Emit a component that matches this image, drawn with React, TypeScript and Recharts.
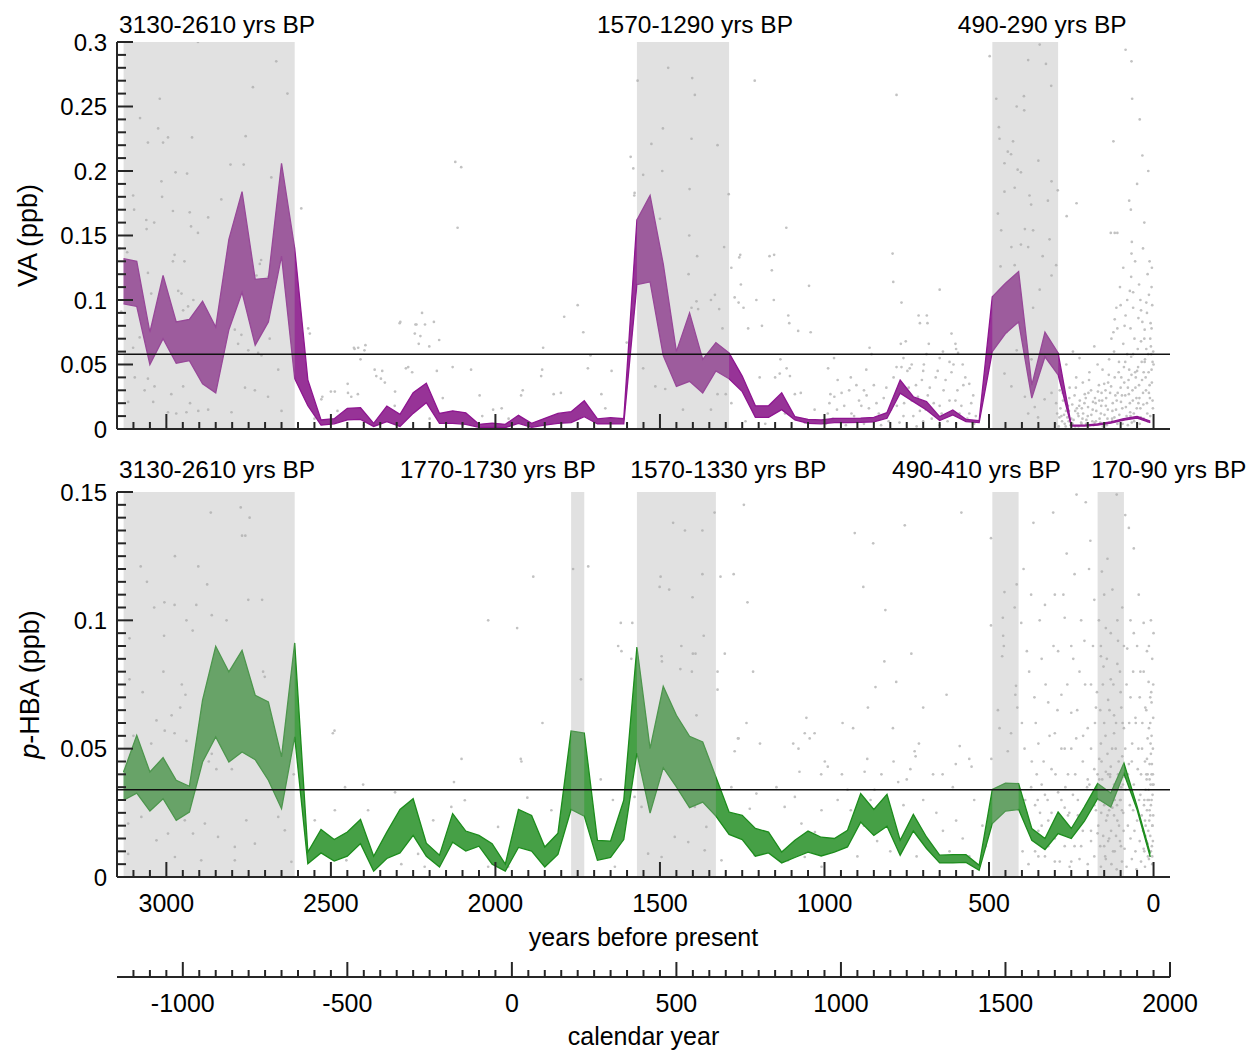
import React from 'react';
import {
  ComposedChart,
  Area,
  Scatter,
  XAxis,
  YAxis,
  ReferenceArea,
  ReferenceLine,
} from 'recharts';

// ---- sample ages (years before present) of the reconstructed bands ----
const YEARS_BP = [
  3130, 3090, 3050, 3010, 2970, 2930, 2890, 2850, 2810, 2770, 2730, 2690, 2650, 2610,
  2570, 2530, 2490, 2450, 2410, 2370, 2330, 2290, 2250, 2210, 2170, 2130, 2090, 2050,
  2010, 1970, 1930, 1890, 1850, 1810, 1770, 1730, 1690, 1650, 1610, 1570, 1530, 1490,
  1450, 1410, 1370, 1330, 1290, 1250, 1210, 1170, 1130, 1090, 1050, 1010, 970, 930,
  890, 850, 810, 770, 730, 690, 650, 610, 570, 530, 490, 450, 410, 370, 330, 290,
  250, 210, 170, 130, 90, 50, 10,
];

// calendar year of the "present" used by the BP scale
const PRESENT_YEAR = 1950;

// ---- vanillic acid (ppb): upper / lower band ----
const VA_HIGH = [
  0.132, 0.13, 0.075, 0.119, 0.083, 0.085, 0.099, 0.079, 0.147, 0.184, 0.116, 0.117, 0.206, 0.14,
  0.038, 0.007, 0.008, 0.016, 0.0165, 0.0044, 0.0178, 0.0114, 0.0282, 0.0354, 0.0121, 0.0141, 0.0126, 0.0036,
  0.0046, 0.0036, 0.0106, 0.0044, 0.0083, 0.0121, 0.0134, 0.0219, 0.0078, 0.0088, 0.008, 0.162, 0.181, 0.128,
  0.06, 0.09, 0.054, 0.067, 0.059, 0.041, 0.018, 0.018, 0.028, 0.0096, 0.0075, 0.007, 0.0083, 0.0083,
  0.0085, 0.009, 0.0127, 0.038, 0.025, 0.0212, 0.0096, 0.0147, 0.0075, 0.0065, 0.1025, 0.113, 0.122, 0.034, 0.075, 0.059,
  0.003, 0.003, 0.004, 0.0055, 0.008, 0.0098, 0.0062,
];
const VA_LOW = [
  0.097, 0.095, 0.05, 0.07, 0.051, 0.053, 0.035, 0.028, 0.077, 0.106, 0.065, 0.083, 0.134, 0.039,
  0.018, 0.003, 0.004, 0.007, 0.0075, 0.002, 0.0057, 0.002, 0.0121, 0.0204, 0.0044, 0.0044, 0.0036, 0.0013,
  0.0013, 0.001, 0.0044, 0.0013, 0.003, 0.0044, 0.0049, 0.0096, 0.0039, 0.0039, 0.004, 0.112, 0.114, 0.057,
  0.033, 0.037, 0.028, 0.045, 0.039, 0.029, 0.009, 0.009, 0.015, 0.007, 0.0044, 0.004, 0.005, 0.005,
  0.0052, 0.0055, 0.0083, 0.0277, 0.0212, 0.0147, 0.0065, 0.0109, 0.0057, 0.005, 0.06, 0.074, 0.083, 0.024, 0.056, 0.042,
  0.0023, 0.0023, 0.003, 0.0045, 0.0068, 0.0085, 0.005,
];

// ---- p-hydroxybenzoic acid (ppb): upper / lower band ----
const HBA_HIGH = [
  0.0409, 0.0552, 0.0409, 0.0465, 0.0377, 0.0353, 0.0689, 0.0899, 0.0799, 0.0883, 0.0708, 0.0682, 0.0468, 0.0912,
  0.0097, 0.0185, 0.0146, 0.0175, 0.0224, 0.0081, 0.0175, 0.0263, 0.0305, 0.0132, 0.0085, 0.0247, 0.0179, 0.0162,
  0.013, 0.005, 0.0263, 0.024, 0.0117, 0.0171, 0.0569, 0.0561, 0.0143, 0.014, 0.0299, 0.0896, 0.05, 0.0743,
  0.063, 0.0548, 0.0526, 0.039, 0.0253, 0.024, 0.0189, 0.0175, 0.0097, 0.0143, 0.0179, 0.0155, 0.015, 0.0182,
  0.0325, 0.0263, 0.0322, 0.0143, 0.0244, 0.0156, 0.0085, 0.0087, 0.0087, 0.0046, 0.0341, 0.0366, 0.0364, 0.0189, 0.015, 0.0253,
  0.0189, 0.0273, 0.0364, 0.0327, 0.0444, 0.0275, 0.0091,
];
const HBA_LOW = [
  0.0299, 0.0327, 0.0257, 0.0305, 0.0221, 0.0253, 0.0448, 0.0546, 0.0448, 0.0487, 0.0457, 0.0377, 0.0266, 0.0546,
  0.0052, 0.0094, 0.0062, 0.0081, 0.013, 0.0023, 0.0072, 0.0094, 0.0162, 0.0081, 0.0039, 0.0136, 0.0101, 0.012,
  0.005, 0.0023, 0.0115, 0.0101, 0.0039, 0.0088, 0.0263, 0.0237, 0.0065, 0.0076, 0.0146, 0.0483, 0.0249, 0.0426,
  0.0351, 0.027, 0.0292, 0.0237, 0.0166, 0.0146, 0.0081, 0.0094, 0.0055, 0.0076, 0.0097, 0.0082, 0.0097, 0.0117,
  0.0214, 0.0162, 0.0198, 0.0085, 0.0179, 0.0111, 0.0055, 0.0055, 0.0057, 0.0026, 0.0208, 0.0257, 0.0263, 0.0143, 0.0107, 0.0169,
  0.015, 0.0218, 0.0305, 0.0273, 0.0403, 0.0262, 0.0078,
];

// ---- background level of each record ----
const VA_THRESHOLD = 0.058;
const HBA_THRESHOLD = 0.034;

// ---- highlighted periods (yrs BP) ----
const VA_PERIODS: [number, number][] = [[3130, 2610], [1570, 1290], [490, 290]];
const HBA_PERIODS: [number, number][] = [[3130, 2610], [1770, 1730], [1570, 1330], [490, 410], [170, 90]];

// ---- individual measurements [yrs BP, ppb] ----
const VA_SAMPLES: [number, number][] = [
  [2904, 0.3], [2666, 0.285], [2737, 0.265], [2632, 0.26], [3020, 0.256], [2759, 0.227], [2922, 0.226], [2995, 0.226],
  [3010, 0.222], [3056, 0.222], [3025, 0.233], [3080, 0.241], [2805, 0.205], [2765, 0.205], [2681, 0.195], [2972, 0.199],
  [2937, 0.198], [3015, 0.192], [3101, 0.181], [3013, 0.18], [2833, 0.178], [2980, 0.169], [2929, 0.168], [3098, 0.17],
  [3061, 0.162], [3037, 0.16], [3060, 0.155], [2975, 0.135], [2980, 0.13], [2945, 0.13], [2925, 0.157], [2904, 0.152],
  [2873, 0.164], [2716, 0.128], [2726, 0.119], [2691, 0.118], [2712, 0.131], [3119, 0.137], [3142, 0.14], [3046, 0.105],
  [2954, 0.105], [2964, 0.107], [2918, 0.1], [2934, 0.095], [2949, 0.092], [3137, 0.091], [2843, 0.081], [2792, 0.077],
  [2772, 0.073], [2731, 0.075], [2686, 0.07], [3056, 0.071], [3017, 0.079], [2883, 0.078], [3101, 0.063], [2782, 0.066],
  [2751, 0.061], [2721, 0.059], [2711, 0.057], [2660, 0.046], [2604, 0.051], [3056, 0.039], [3036, 0.033], [2985, 0.027],
  [2949, 0.033], [3066, 0.03], [3040, 0.021], [2928, 0.02], [2903, 0.014], [2873, 0.015], [2995, 0.013], [2970, 0.012],
  [2939, 0.013], [2802, 0.013], [2761, 0.032], [2731, 0.03], [2691, 0.025], [2650, 0.014], [3096, 0.04], [3116, 0.021],
  [3081, 0.071], [3056, 0.121], [2590, 0.171], [2569, 0.078], [2564, 0.074], [2488, 0.029], [2428, 0.062], [2417, 0.063],
  [2438, 0.025], [2367, 0.046], [2362, 0.041], [2291, 0.082], [2240, 0.081], [2265, 0.048], [2245, 0.074], [2529, 0.023],
  [2448, 0.028], [2306, 0.018], [2122, 0.207], [2104, 0.203], [2115, 0.156], [2289, 0.083], [2223, 0.09], [2243, 0.081],
  [2214, 0.081], [2187, 0.083], [2228, 0.072], [2233, 0.066], [2201, 0.064], [2171, 0.069], [2430, 0.063], [2395, 0.065],
  [2398, 0.061], [2410, 0.054], [2130, 0.048], [2074, 0.046], [2178, 0.045], [2253, 0.044], [2272, 0.047], [2344, 0.045],
  [2336, 0.036], [2348, 0.039], [2449, 0.035], [2500, 0.029], [2526, 0.025], [2305, 0.029], [2418, 0.027], [2048, 0.026],
  [2007, 0.015], [1981, 0.016], [1922, 0.026], [1917, 0.03], [1855, 0.063], [1858, 0.046], [1861, 0.041], [1801, 0.028],
  [1750, 0.096], [1791, 0.087], [1733, 0.075], [1719, 0.047], [1711, 0.057], [1647, 0.045], [1666, 0.016], [1601, 0.067],
  [1589, 0.211], [1581, 0.202], [1578, 0.181], [1823, 0.027], [1678, 0.027], [1568, 0.27], [1475, 0.28], [1402, 0.272],
  [1394, 0.259], [1212, 0.27], [1491, 0.233], [1404, 0.225], [1325, 0.22], [1526, 0.221], [1551, 0.197], [1493, 0.2],
  [1577, 0.183], [1291, 0.182], [1116, 0.156], [1500, 0.163], [1410, 0.186], [1411, 0.15], [1305, 0.141], [1256, 0.135],
  [1153, 0.135], [1167, 0.134], [1160, 0.123], [1283, 0.125], [1254, 0.112], [1047, 0.111], [1387, 0.134], [1413, 0.12],
  [1333, 0.104], [1273, 0.102], [1261, 0.098], [1389, 0.099], [1404, 0.094], [1384, 0.093], [1345, 0.1], [1107, 0.082],
  [1320, 0.093], [1080, 0.076], [1310, 0.078], [1232, 0.078], [1190, 0.08], [1429, 0.071], [1136, 0.043], [1105, 0.041],
  [1115, 0.047], [1197, 0.04], [1090, 0.027], [1072, 0.028], [989, 0.047], [982, 0.027], [1150, 0.04], [1514, 0.033],
  [1484, 0.031], [1551, 0.047], [1403, 0.043], [1367, 0.036], [1325, 0.027], [1300, 0.027], [1283, 0.02], [1345, 0.015],
  [1430, 0.015], [1259, 0.133], [1246, 0.094], [1207, 0.1], [1154, 0.1], [1110, 0.088], [1042, 0.075], [971, 0.055],
  [1134, 0.054], [863, 0.063], [781, 0.259], [793, 0.136], [791, 0.114], [766, 0.098], [710, 0.082], [687, 0.082],
  [753, 0.068], [683, 0.066], [650, 0.108], [781, 0.048], [766, 0.048], [741, 0.047], [714, 0.088], [689, 0.088],
  [614, 0.074], [602, 0.066], [594, 0.059], [857, 0.058], [873, 0.046], [768, 0.066],
  [990, 0.012], [970, 0.025], [955, 0.006], [940, 0.018], [925, 0.03], [910, 0.01], [895, 0.022], [880, 0.004],
  [865, 0.016], [850, 0.034], [835, 0.012], [820, 0.024], [805, 0.006], [790, 0.04], [780, 0.018], [770, 0.03],
  [760, 0.01], [748, 0.045], [735, 0.022], [722, 0.034], [710, 0.014], [698, 0.05], [686, 0.026], [674, 0.008],
  [662, 0.04], [650, 0.018], [638, 0.03], [626, 0.006], [614, 0.044], [602, 0.022], [590, 0.012], [578, 0.034],
  [566, 0.008], [554, 0.02], [545, 0.004], [700, 0.006], [720, 0.002], [650, 0.003], [600, 0.004], [760, 0.055],
  [640, 0.06], [690, 0.058], [1030, 0.015], [1060, 0.005], [1120, 0.012], [1180, 0.004], [1240, 0.006], [1700, 0.006],
  [1760, 0.012], [1880, 0.004], [1960, 0.008], [2040, 0.01], [2100, 0.003], [2160, 0.024], [2200, 0.008], [2350, 0.01],
  [2400, 0.003], [2480, 0.014], [2550, 0.008],
  [498, 0.289], [346, 0.298], [381, 0.286], [327, 0.283], [311, 0.266], [478, 0.256], [394, 0.258], [416, 0.25],
  [393, 0.247], [470, 0.234], [468, 0.225], [427, 0.223], [443, 0.215], [433, 0.213], [350, 0.208], [413, 0.201],
  [403, 0.199], [453, 0.206], [310, 0.192], [422, 0.187], [453, 0.184], [377, 0.181], [372, 0.174], [321, 0.177],
  [473, 0.167], [463, 0.154], [391, 0.155], [366, 0.154], [316, 0.147], [432, 0.141], [403, 0.143], [381, 0.141],
  [291, 0.185], [296, 0.127], [337, 0.134], [465, 0.126], [422, 0.127], [310, 0.119], [346, 0.108], [366, 0.094],
  [473, 0.084], [447, 0.075], [416, 0.061], [371, 0.054], [321, 0.059], [453, 0.043], [432, 0.033], [391, 0.025],
  [361, 0.017], [331, 0.023], [310, 0.028], [381, 0.012], [351, 0.009],
  [234, 0.175], [264, 0.165], [122, 0.223], [85, 0.294], [67, 0.285], [65, 0.256], [34, 0.212], [74, 0.177],
  [69, 0.17], [130, 0.152], [118, 0.152], [110, 0.152], [66, 0.145], [67, 0.136], [72, 0.107], [62, 0.106],
  [6, 0.11], [113, 0.094], [100, 0.096], [122, 0.075], [110, 0.078], [85, 0.088], [34, 0.083], [27, 0.077],
  [280, 0.01], [270, 0.004], [260, 0.018], [250, 0.008], [240, 0.026], [230, 0.012], [220, 0.005], [210, 0.02],
  [200, 0.01], [190, 0.03], [185, 0.015], [175, 0.006], [165, 0.022], [160, 0.012], [150, 0.035], [145, 0.018],
  [140, 0.008], [132, 0.028], [125, 0.014], [118, 0.04], [112, 0.022], [108, 0.006], [100, 0.032], [95, 0.016],
  [90, 0.048], [86, 0.026], [82, 0.01], [76, 0.038], [72, 0.02], [68, 0.056], [64, 0.03], [60, 0.012],
  [56, 0.044], [52, 0.024], [48, 0.062], [44, 0.034], [40, 0.016], [36, 0.052], [32, 0.028], [28, 0.07],
  [24, 0.04], [20, 0.02], [16, 0.058], [12, 0.034], [9, 0.082], [6, 0.046], [3, 0.022], [1, 0.06],
  [255, 0.032], [235, 0.04], [215, 0.036], [195, 0.044], [170, 0.05], [155, 0.046], [135, 0.054], [120, 0.06],
  [105, 0.052], [92, 0.066], [80, 0.058], [70, 0.078], [58, 0.07], [46, 0.086], [38, 0.092], [22, 0.098],
  [14, 0.104], [4, 0.096], [265, 0.05], [245, 0.06], [225, 0.055], [180, 0.064], [128, 0.07], [88, 0.08],
  [62, 0.094], [40, 0.1], [18, 0.12], [10, 0.07], [7, 0.058], [26, 0.054], [50, 0.045], [74, 0.046],
  [98, 0.04], [138, 0.036], [158, 0.028], [178, 0.024], [198, 0.028], [218, 0.016], [238, 0.014], [258, 0.006],
  [275, 0.022], [285, 0.03], [10, 0.01], [18, 0.006], [30, 0.008], [42, 0.004], [54, 0.009], [66, 0.005],
  [78, 0.003], [94, 0.007], [110, 0.004], [126, 0.006], [142, 0.003], [162, 0.005], [182, 0.003], [205, 0.004],
  [228, 0.002],
];

// densely sampled recent section and the 1000-540 BP interval
const VA_SAMPLES_DENSE: [number, number][] = [
  [298, 0.004], [293, 0.012], [288, 0.002], [283, 0.016], [278, 0.006], [272, 0.011], [267, 0.002], [262, 0.009],
  [257, 0.014], [252, 0.003], [247, 0.019], [243, 0.007], [238, 0.002], [233, 0.016], [228, 0.01], [224, 0.022],
  [219, 0.004], [214, 0.012], [209, 0.027], [204, 0.007], [199, 0.017], [194, 0.003], [189, 0.011], [184, 0.021],
  [179, 0.005], [174, 0.014], [169, 0.029], [164, 0.008], [159, 0.018], [154, 0.002], [149, 0.011], [144, 0.024],
  [139, 0.015], [134, 0.005], [129, 0.033], [124, 0.02], [119, 0.009], [114, 0.015], [109, 0.028], [104, 0.011],
  [99, 0.021], [94, 0.004], [89, 0.036], [84, 0.017], [79, 0.008], [75, 0.027], [71, 0.013], [67, 0.042],
  [63, 0.022], [59, 0.006], [55, 0.032], [51, 0.016], [47, 0.048], [43, 0.024], [39, 0.009], [35, 0.038],
  [31, 0.019], [27, 0.052], [23, 0.03], [19, 0.012], [15, 0.044], [11, 0.024], [8, 0.064], [5, 0.036],
  [2, 0.016], [0, 0.05], [296, 0.02], [286, 0.009], [276, 0.028], [266, 0.014], [256, 0.024], [246, 0.004],
  [236, 0.032], [226, 0.018], [216, 0.008], [206, 0.024], [196, 0.038], [186, 0.006], [176, 0.02], [166, 0.034],
  [156, 0.022], [146, 0.03], [136, 0.042], [126, 0.008], [116, 0.026], [106, 0.044], [96, 0.026], [86, 0.052],
  [78, 0.032], [70, 0.01], [62, 0.058], [54, 0.04], [46, 0.02], [38, 0.068], [30, 0.044], [22, 0.062],
  [14, 0.028], [6, 0.078], [3, 0.052], [118, 0.085], [102, 0.11], [92, 0.125], [80, 0.1], [68, 0.118],
  [56, 0.13], [44, 0.112], [32, 0.14], [20, 0.09], [12, 0.13], [5, 0.125], [28, 0.16], [50, 0.19],
  [16, 0.2], [42, 0.24],
  [995, 0.004], [985, 0.02], [975, 0.008], [962, 0.015], [948, 0.028], [935, 0.003], [918, 0.012], [903, 0.034],
  [888, 0.018], [872, 0.026], [858, 0.008], [842, 0.02], [828, 0.003], [812, 0.032], [798, 0.015], [785, 0.024],
  [772, 0.005], [758, 0.02], [744, 0.032], [730, 0.01], [716, 0.025], [704, 0.038], [692, 0.015], [680, 0.032],
  [668, 0.02], [656, 0.045], [644, 0.012], [632, 0.038], [620, 0.022], [608, 0.05], [596, 0.03], [584, 0.018],
  [572, 0.04], [560, 0.012], [548, 0.026], [540, 0.01], [620, 0.052], [650, 0.055], [700, 0.045], [735, 0.05],
  [600, 0.062], [580, 0.05], [560, 0.035], [880, 0.03], [920, 0.04], [960, 0.038],
];

const HBA_SAMPLES: [number, number][] = [
  [2865, 0.142], [2774, 0.144], [2747, 0.14], [2770, 0.133], [2760, 0.133], [2974, 0.125], [2903, 0.121], [3078, 0.121],
  [2876, 0.114], [2709, 0.108], [3059, 0.115], [3037, 0.105], [2975, 0.106], [3006, 0.107], [2909, 0.106], [2939, 0.1],
  [2920, 0.096], [3007, 0.094], [3112, 0.093], [2862, 0.102], [2817, 0.1], [2751, 0.108], [2706, 0.08], [2701, 0.078],
  [3112, 0.077], [3072, 0.072], [2953, 0.075], [2942, 0.071], [3009, 0.08], [2958, 0.066], [2984, 0.063], [3030, 0.061],
  [3046, 0.052], [3100, 0.055], [3005, 0.057], [2975, 0.056], [2939, 0.053], [2838, 0.055], [2808, 0.05], [2618, 0.057],
  [2489, 0.057], [2494, 0.056], [2871, 0.045], [2848, 0.042], [2862, 0.048], [2801, 0.042], [2675, 0.036], [2457, 0.035],
  [2402, 0.036], [2305, 0.033], [2613, 0.04], [3030, 0.036],
  [3116, 0.0208], [3076, 0.0234], [3030, 0.0143], [2995, 0.0169], [2944, 0.0221], [2919, 0.0169], [2883, 0.0208], [2843, 0.0156],
  [2792, 0.0117], [2757, 0.0221], [2731, 0.013], [2660, 0.0234], [2640, 0.0182], [2549, 0.0221], [2544, 0.0117], [2488, 0.026],
  [2453, 0.0065], [2438, 0.0104], [2387, 0.026], [2336, 0.0143], [2286, 0.005], [2235, 0.009], [3116, 0.009], [2974, 0.0078],
  [2894, 0.0065], [2792, 0.0065], [2620, 0.0059],
  [1764, 0.12], [1718, 0.121], [1885, 0.117], [2022, 0.1], [1934, 0.097], [1740, 0.077], [1619, 0.099], [1617, 0.088],
  [1587, 0.085], [1584, 0.099], [1498, 0.117], [1472, 0.112], [1501, 0.113], [1460, 0.138], [1424, 0.135], [1371, 0.135],
  [1245, 0.145], [1334, 0.142], [1316, 0.117], [1276, 0.118], [1234, 0.107], [1401, 0.109], [1371, 0.118], [1367, 0.094],
  [1400, 0.087], [1392, 0.087], [1494, 0.084], [1403, 0.08], [1303, 0.087], [1325, 0.08], [1217, 0.08], [1389, 0.063],
  [1055, 0.062], [1030, 0.056], [1060, 0.056], [1095, 0.052], [1196, 0.052], [1261, 0.054], [1273, 0.049], [999, 0.045],
  [990, 0.043], [1010, 0.04], [2126, 0.037], [2103, 0.046], [1923, 0.046], [1857, 0.06], [1680, 0.038], [1643, 0.03],
  [1627, 0.09], [1921, 0.045], [1435, 0.09], [1495, 0.086], [1438, 0.081], [1325, 0.073], [1237, 0.06], [1263, 0.054],
  [1045, 0.054], [1079, 0.05], [1076, 0.041],
  [1903, 0.0309], [1830, 0.026], [1769, 0.0286], [1718, 0.0273], [1577, 0.0312], [1556, 0.0273], [1516, 0.0364], [1424, 0.035],
  [1394, 0.0273], [1359, 0.0195], [1283, 0.035], [1227, 0.0266], [1207, 0.0325], [1146, 0.035], [1121, 0.0273], [1090, 0.0312],
  [1070, 0.0208], [1029, 0.0175], [1009, 0.026], [1212, 0.0085], [1161, 0.0098], [1111, 0.0065], [1060, 0.0078], [1009, 0.004],
  [1313, 0.0065], [1364, 0.0104], [1414, 0.0136], [1455, 0.0156], [1495, 0.0078], [1536, 0.0091], [1637, 0.004], [1678, 0.0078],
  [1961, 0.004], [1992, 0.0195], [2022, 0.004], [2093, 0.0299], [2134, 0.0273], [2189, 0.0221], [2215, 0.004], [2063, 0.0117],
  [908, 0.134], [852, 0.13], [756, 0.137], [584, 0.142], [882, 0.113], [815, 0.104], [736, 0.087], [818, 0.084],
  [845, 0.074], [782, 0.076], [700, 0.066], [629, 0.071], [945, 0.06], [913, 0.058], [868, 0.066], [792, 0.058],
  [726, 0.049], [723, 0.047], [713, 0.052], [739, 0.042], [589, 0.051], [553, 0.043], [601, 0.044], [641, 0.04],
  [827, 0.04], [878, 0.041], [848, 0.034], [776, 0.037], [947, 0.04],
  [494, 0.132], [416, 0.114], [453, 0.111], [422, 0.105], [458, 0.101], [402, 0.099], [457, 0.094], [455, 0.09],
  [460, 0.086], [494, 0.098], [418, 0.0745], [420, 0.071], [414, 0.066], [473, 0.065], [468, 0.058], [433, 0.056],
  [493, 0.046], [443, 0.049], [412, 0.029], [453, 0.027],
  [545, 0.03], [520, 0.02], [510, 0.012], [560, 0.008], [580, 0.015], [600, 0.022], [620, 0.01], [640, 0.018],
  [660, 0.025], [680, 0.012], [700, 0.03], [720, 0.008], [740, 0.02], [760, 0.028], [780, 0.016], [800, 0.01],
  [820, 0.024], [840, 0.014], [860, 0.03], [880, 0.02], [900, 0.008], [920, 0.026], [940, 0.016], [960, 0.03],
  [980, 0.012], [390, 0.03], [370, 0.045], [380, 0.02], [360, 0.01], [345, 0.025], [400, 0.06], [362, 0.07],
  [385, 0.088], [372, 0.11], [395, 0.12], [365, 0.138], [355, 0.04], [560, 0.046], [610, 0.035], [670, 0.04],
  [750, 0.038], [790, 0.045], [870, 0.046], [930, 0.034],
  [305, 0.142], [234, 0.149], [206, 0.146], [264, 0.126], [192, 0.131], [157, 0.119], [112, 0.149], [86, 0.141],
  [75, 0.136], [140, 0.124], [60, 0.128], [240, 0.118], [300, 0.11], [330, 0.106], [270, 0.101], [180, 0.108],
  [125, 0.112], [95, 0.105], [45, 0.11], [30, 0.099], [20, 0.088], [60, 0.095], [145, 0.097], [210, 0.092],
  [250, 0.09], [290, 0.088], [340, 0.085], [160, 0.086], [110, 0.083], [80, 0.089], [40, 0.08], [15, 0.076],
  [225, 0.08], [190, 0.075], [130, 0.077], [100, 0.072], [70, 0.07], [280, 0.071], [320, 0.068], [250, 0.064],
  [175, 0.066], [150, 0.06], [120, 0.063], [90, 0.058], [55, 0.062], [25, 0.066], [10, 0.06], [200, 0.058],
  [235, 0.054], [300, 0.056], [350, 0.052], [270, 0.05], [160, 0.052], [140, 0.048], [115, 0.05], [95, 0.047],
  [65, 0.052], [35, 0.05], [18, 0.054], [8, 0.048], [215, 0.045], [180, 0.042], [130, 0.043], [105, 0.04],
  [75, 0.044], [48, 0.042], [22, 0.04], [12, 0.038], [5, 0.044], [260, 0.04], [310, 0.042], [340, 0.036],
  [290, 0.033], [245, 0.032], [195, 0.036], [165, 0.038], [150, 0.034], [120, 0.036], [100, 0.03], [85, 0.034],
  [60, 0.036], [40, 0.032], [28, 0.03], [15, 0.034], [6, 0.03], [270, 0.027], [230, 0.024], [205, 0.028],
  [175, 0.026], [155, 0.03], [140, 0.024], [125, 0.027], [110, 0.022], [92, 0.025], [78, 0.02], [62, 0.026],
  [50, 0.022], [36, 0.024], [24, 0.02], [10, 0.024], [3, 0.02], [320, 0.022], [350, 0.018], [300, 0.015],
  [260, 0.016], [240, 0.012], [215, 0.018], [190, 0.014], [170, 0.017], [150, 0.012], [135, 0.015], [118, 0.01],
  [102, 0.014], [88, 0.011], [70, 0.015], [55, 0.01], [42, 0.014], [30, 0.011], [18, 0.013], [8, 0.01],
  [2, 0.014], [330, 0.008], [285, 0.006], [255, 0.004], [225, 0.007], [200, 0.005], [180, 0.008], [160, 0.004],
  [145, 0.007], [128, 0.005], [112, 0.003], [96, 0.006], [82, 0.004], [66, 0.007], [52, 0.003], [38, 0.006],
  [26, 0.004], [14, 0.007], [4, 0.005], [160, 0.09], [172, 0.072], [108, 0.092], [138, 0.069], [152, 0.082],
  [98, 0.066], [120, 0.056], [165, 0.046], [145, 0.041], [132, 0.039], [88, 0.039], [72, 0.028], [58, 0.018],
  [44, 0.03], [32, 0.018], [20, 0.046], [14, 0.058], [6, 0.068], [9, 0.052], [3, 0.036], [12, 0.026],
  [4, 0.008], [1, 0.062], [7, 0.072],
];

// densely sampled recent section
const HBA_SAMPLES_DENSE: [number, number][] = [
  [398, 0.01], [392, 0.05], [386, 0.025], [378, 0.08], [372, 0.035], [366, 0.015], [358, 0.06], [352, 0.03],
  [346, 0.1], [340, 0.012], [334, 0.045], [328, 0.075], [322, 0.03], [316, 0.055], [310, 0.015], [304, 0.09],
  [298, 0.04], [292, 0.065], [286, 0.02], [280, 0.05], [274, 0.11], [268, 0.035], [262, 0.075], [256, 0.025],
  [250, 0.05], [244, 0.085], [238, 0.04], [232, 0.065], [226, 0.02], [220, 0.1], [214, 0.055], [208, 0.075],
  [202, 0.035], [196, 0.12], [190, 0.05], [184, 0.09], [178, 0.06], [172, 0.035], [166, 0.1], [162, 0.065],
  [158, 0.045], [154, 0.075], [150, 0.11], [146, 0.055], [142, 0.085], [138, 0.04], [134, 0.065], [130, 0.095],
  [126, 0.05], [122, 0.075], [118, 0.03], [114, 0.06], [110, 0.1], [106, 0.045], [102, 0.08], [98, 0.035],
  [94, 0.06], [90, 0.09], [86, 0.05], [82, 0.075], [78, 0.04], [74, 0.06], [70, 0.1], [66, 0.045],
  [62, 0.08], [58, 0.03], [54, 0.06], [50, 0.09], [46, 0.05], [42, 0.07], [38, 0.04], [34, 0.06],
  [30, 0.08], [26, 0.045], [22, 0.065], [18, 0.03], [14, 0.09], [10, 0.07], [8, 0.1], [6, 0.055],
  [4, 0.085], [2, 0.04], [1, 0.075], [0, 0.095],
  [168, 0.02], [165, 0.03], [162, 0.012], [159, 0.025], [156, 0.038], [153, 0.016], [150, 0.028], [147, 0.008],
  [144, 0.022], [141, 0.033], [138, 0.014], [135, 0.026], [132, 0.04], [129, 0.018], [126, 0.03], [123, 0.01],
  [120, 0.024], [117, 0.035], [114, 0.016], [111, 0.028], [108, 0.04], [105, 0.02], [102, 0.03], [99, 0.012],
  [96, 0.026], [93, 0.036], [91, 0.018], [28, 0.01], [26, 0.022], [24, 0.034], [22, 0.014], [20, 0.026],
  [18, 0.04], [16, 0.018], [14, 0.03], [12, 0.044], [10, 0.016], [8, 0.028], [6, 0.04], [4, 0.02],
  [3, 0.032], [2, 0.05], [1, 0.024], [0, 0.036], [5, 0.012], [9, 0.036], [13, 0.022], [17, 0.008],
  [21, 0.038], [25, 0.016], [29, 0.028],
  [380, 0.005], [370, 0.018], [360, 0.028], [350, 0.008], [340, 0.02], [330, 0.032], [320, 0.012], [310, 0.025],
  [300, 0.006], [290, 0.02], [280, 0.03], [270, 0.012], [260, 0.024], [250, 0.006], [240, 0.02], [230, 0.03],
  [220, 0.012], [210, 0.024], [200, 0.038], [190, 0.018], [180, 0.028], [170, 0.04],
];

// ---- axis tick labels ----
const BP_TICK_LABELS = [3000, 2500, 2000, 1500, 1000, 500, 0];
const CAL_TICK_LABELS = [-1000, -500, 0, 500, 1000, 1500, 2000];
const VA_TICK_LABELS = [0, 0.05, 0.1, 0.15, 0.2, 0.25, 0.3];
const HBA_TICK_LABELS = [0, 0.05, 0.1, 0.15];

// ---- layout / style ----
const FONT = '"Liberation Sans", Arial, Helvetica, sans-serif';
const INK = '#000000';
const AXIS = '#262626';
const SHADE = '#a8a8a8';
const VA_FILL = '#973397';
const VA_EDGE = '#8e1590';
const HBA_FILL = '#46a046';
const HBA_EDGE = '#1c8c1c';
const DOT = '#c2c2c2';
// horizontal nudges (px) that keep the period captions from colliding
const VA_CAPTION_SHIFT = [8, 12, 17];
const HBA_CAPTION_SHIFT = [8, -80, 52, -29, 58];

const stepTicks = (from: number, to: number, step: number) => {
  const n = Math.round((to - from) / step);
  const out: number[] = [];
  for (let i = 0; i <= n; i++) out.push(Number((from + i * step).toFixed(6)));
  return out;
};

const BP_TICKS = stepTicks(0, 3100, 50);
const CAL_TICKS = stepTicks(-1150, 2000, 50);
const VA_TICKS = stepTicks(0, 0.3, 0.01);
const HBA_TICKS = stepTicks(0, 0.15, 0.005);

const isMajor = (v: number, majors: number[]) => majors.some((m) => Math.abs(m - v) < 1e-6);
const fmt = (v: number) => String(Number(v.toFixed(4)));

const vaRows = YEARS_BP.map((bp, i) => ({ bp, cal: PRESENT_YEAR - bp, band: [VA_LOW[i], VA_HIGH[i]] }));
const hbaRows = YEARS_BP.map((bp, i) => ({ bp, cal: PRESENT_YEAR - bp, band: [HBA_LOW[i], HBA_HIGH[i]] }));
const vaDots = [...VA_SAMPLES, ...VA_SAMPLES_DENSE].map(([bp, v]) => ({ bp, v }));
const hbaDots = [...HBA_SAMPLES, ...HBA_SAMPLES_DENSE].map(([bp, v]) => ({ bp, v }));

const XTick = (props: any) => {
  const { x, y, payload, majors, labelled } = props;
  const v = payload.value;
  const major = isMajor(v, majors);
  return (
    <g>
      <line x1={x} x2={x} y1={y} y2={y - (major ? 15 : 7)} stroke={AXIS} strokeWidth={2} />
      {major && labelled ? (
        <text x={x} y={y + 35} textAnchor="middle" fontSize={25} fontFamily={FONT} fill={INK}>
          {fmt(v)}
        </text>
      ) : null}
    </g>
  );
};

const YTick = (props: any) => {
  const { x, y, payload, majors } = props;
  const v = payload.value;
  const major = isMajor(v, majors);
  return (
    <g>
      <line x1={x} x2={x + (major ? 16 : 9)} y1={y} y2={y} stroke={AXIS} strokeWidth={2} />
      {major ? (
        <text x={x - 10} y={y} dy="0.36em" textAnchor="end" fontSize={24} fontFamily={FONT} fill={INK}>
          {fmt(v)}
        </text>
      ) : null}
    </g>
  );
};

const Dot = (props: any) => <circle cx={props.cx} cy={props.cy} r={1.35} fill={DOT} />;

const periodCaption = (from: number, to: number, shift: number, lift: number) => (p: any) => {
  const vb = p.viewBox;
  if (!vb) return null;
  return (
    <text
      x={vb.x + vb.width / 2 + shift}
      y={vb.y - lift}
      textAnchor="middle"
      fontSize={24.5}
      fontFamily={FONT}
      fill={INK}
    >
      {`${from}-${to} yrs BP`}
    </text>
  );
};

const yTitle = (content: React.ReactNode, cx: number) => (p: any) => {
  const vb = p.viewBox || { y: 0, height: 0 };
  const cy = vb.y + vb.height / 2;
  return (
    <text
      x={cx}
      y={cy}
      transform={`rotate(-90 ${cx} ${cy})`}
      textAnchor="middle"
      dominantBaseline="central"
      fontSize={27}
      fontFamily={FONT}
      fill={INK}
    >
      {content}
    </text>
  );
};

const xTitle = (content: string, dy: number) => (p: any) => {
  const vb = p.viewBox || { x: 0, y: 0, width: 0 };
  return (
    <text x={vb.x + vb.width / 2} y={vb.y + dy} textAnchor="middle" fontSize={25} fontFamily={FONT} fill={INK}>
      {content}
    </text>
  );
};

const axisLine = { stroke: AXIS, strokeWidth: 2 };

export default function App() {
  return (
    <div
      style={{
        position: 'fixed',
        left: 0,
        top: 0,
        width: 1247,
        height: 1051,
        background: '#ffffff',
        fontFamily: FONT,
      }}
    >
      <div style={{ position: 'absolute', left: 0, top: 0 }}>
        <ComposedChart width={1247} height={452} data={vaRows} margin={{ top: 42, right: 77, bottom: 0, left: 0 }}>
          <XAxis
            dataKey="bp"
            type="number"
            domain={[-50, 3150]}
            reversed
            allowDataOverflow
            ticks={BP_TICKS}
            interval={0}
            height={23}
            tickLine={false}
            tickSize={0}
            tickMargin={0}
            axisLine={axisLine}
            tick={(p: any) => <XTick {...p} majors={BP_TICK_LABELS} labelled={false} />}
          />
          <YAxis
            type="number"
            domain={[0, 0.3]}
            allowDataOverflow
            ticks={VA_TICKS}
            interval={0}
            width={117}
            tickLine={false}
            tickSize={0}
            tickMargin={0}
            axisLine={axisLine}
            tick={(p: any) => <YTick {...p} majors={VA_TICK_LABELS} />}
            label={yTitle('VA (ppb)', 28)}
          />
          <Scatter data={vaDots} dataKey="v" shape={Dot} isAnimationActive={false} zIndex={50} />
          <Area
            dataKey="band"
            type="linear"
            fill={VA_FILL}
            fillOpacity={1}
            stroke={VA_EDGE}
            strokeWidth={1.3}
            isAnimationActive={false}
          />
          {VA_PERIODS.map(([a, b], i) => (
            <ReferenceArea
              key={`va-${a}`}
              x1={a}
              x2={b}
              fill={SHADE}
              fillOpacity={0.35}
              stroke="none"
              zIndex={150}
              label={periodCaption(a, b, VA_CAPTION_SHIFT[i], 9.5)}
            />
          ))}
          <ReferenceLine y={VA_THRESHOLD} stroke="#111111" strokeWidth={1.5} zIndex={700} />
        </ComposedChart>
      </div>
      <div style={{ position: 'absolute', left: 0, top: 440 }}>
        <ComposedChart width={1247} height={611} data={hbaRows} margin={{ top: 52, right: 77, bottom: 0, left: 0 }}>
          <XAxis
            dataKey="bp"
            type="number"
            domain={[-50, 3150]}
            reversed
            allowDataOverflow
            ticks={BP_TICKS}
            interval={0}
            height={100}
            tickLine={false}
            tickSize={0}
            tickMargin={0}
            axisLine={axisLine}
            tick={(p: any) => <XTick {...p} majors={BP_TICK_LABELS} labelled />}
            label={xTitle('years before present', 69)}
          />
          <XAxis
            xAxisId="cal"
            dataKey="cal"
            type="number"
            domain={[-1200, 2000]}
            allowDataOverflow
            ticks={CAL_TICKS}
            interval={0}
            height={74}
            tickLine={false}
            tickSize={0}
            tickMargin={0}
            axisLine={axisLine}
            tick={(p: any) => <XTick {...p} majors={CAL_TICK_LABELS} labelled />}
            label={xTitle('calendar year', 68)}
          />
          <YAxis
            type="number"
            domain={[0, 0.15]}
            allowDataOverflow
            ticks={HBA_TICKS}
            interval={0}
            width={117}
            tickLine={false}
            tickSize={0}
            tickMargin={0}
            axisLine={axisLine}
            tick={(p: any) => <YTick {...p} majors={HBA_TICK_LABELS} />}
            label={yTitle(
              <>
                <tspan fontStyle="italic">p</tspan>
                <tspan>-HBA (ppb)</tspan>
              </>,
              30,
            )}
          />
          <Scatter data={hbaDots} dataKey="v" shape={Dot} isAnimationActive={false} zIndex={50} />
          <Area
            dataKey="band"
            type="linear"
            fill={HBA_FILL}
            fillOpacity={1}
            stroke={HBA_EDGE}
            strokeWidth={1.3}
            isAnimationActive={false}
          />
          {HBA_PERIODS.map(([a, b], i) => (
            <ReferenceArea
              key={`hba-${a}`}
              x1={a}
              x2={b}
              fill={SHADE}
              fillOpacity={0.35}
              stroke="none"
              zIndex={150}
              label={periodCaption(a, b, HBA_CAPTION_SHIFT[i], 13.7)}
            />
          ))}
          <ReferenceLine y={HBA_THRESHOLD} stroke="#111111" strokeWidth={1.5} zIndex={700} />
        </ComposedChart>
      </div>
    </div>
  );
}
